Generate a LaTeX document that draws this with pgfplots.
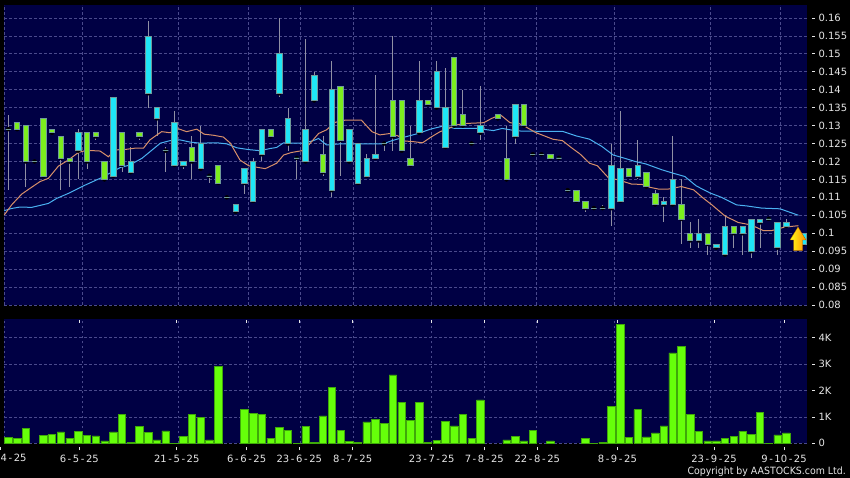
\documentclass[border=0pt]{standalone}
\usepackage{pgfplots}
\usepackage{pgfplotstable}
\usepackage{fontspec}
\setmainfont{DejaVu Sans}
\pgfplotsset{compat=1.18}

\definecolor{panel}{HTML}{000044}
\definecolor{gridc}{HTML}{4A4A8C}
\definecolor{upc}{HTML}{7CEE1E}
\definecolor{downc}{HTML}{1FE6F6}
\definecolor{edgec}{HTML}{6F9A9A}
\definecolor{wickc}{HTML}{9090A4}
\definecolor{volc}{HTML}{66FF0A}
\definecolor{voledge}{HTML}{3FA80A}
\definecolor{ma1}{HTML}{D8906A}
\definecolor{ma2}{HTML}{4AB0F0}
\definecolor{textc}{HTML}{E6E6E6}

% wider hyphen in the dates
\newcommand\hy{\kern1.6pt-\kern1.6pt}

% i, body low, body high, wick low, wick high
\pgfplotstableread{
i lo hi wl wh
1 .129 .131 .129 .131
2 .120 .130 .113 .130
4 .116 .132 .116 .132
5 .128 .129 .128 .129
6 .121 .127 .112 .127
7 .120 .121 .113 .121
9 .120 .128 .118 .128
10 .127 .128 .126 .128
11 .115 .120 .115 .120
13 .119 .128 .117 .128
15 .127 .128 .126 .128
21 .120 .124 .115 .127
24 .114 .119 .114 .119
30 .127 .129 .127 .129
36 .117 .122 .116 .127
38 .126 .141 .116 .141
44 .127 .137 .123 .155
45 .123 .137 .123 .137
46 .119 .121 .119 .130
48 .136 .137 .136 .137
51 .130 .149 .130 .149
52 .130 .133 .130 .140
56 .132 .133 .132 .133
57 .115 .121 .115 .130
59 .130 .136 .130 .136
62 .121 .122 .121 .122
65 .109 .112 .109 .112
66 .107 .109 .106 .109
71 .116 .118 .116 .118
73 .113 .117 .113 .117
74 .108 .111 .108 .112
77 .104 .108 .097 .115
78 .098 .100 .096 .103
80 .097 .100 .094 .100
83 .100 .102 .096 .102
}\upcandles

\pgfplotstableread{
i lo hi wl wh
0 .129 .129 .112 .133
3 .120 .120 .120 .120
8 .123 .128 .115 .129
12 .116 .138 .116 .138
14 .117 .120 .117 .124
16 .139 .155 .135 .159
17 .132 .135 .127 .135
18 .123 .123 .117 .124
19 .119 .131 .119 .134
20 .119 .120 .118 .120
22 .118 .125 .118 .130
23 .116 .116 .114 .116
25 .110 .110 .110 .110
26 .106 .108 .106 .108
27 .114 .118 .111 .118
28 .109 .120 .109 .121
29 .122 .129 .120 .129
31 .139 .150 .138 .160
32 .125 .132 .123 .135
33 .121 .121 .115 .121
34 .120 .129 .120 .154
35 .137 .144 .137 .145
37 .112 .140 .110 .148
39 .120 .129 .120 .129
40 .114 .125 .114 .125
41 .116 .121 .116 .122
42 .121 .122 .121 .144
43 .125 .125 .123 .125
47 .128 .137 .128 .148
49 .135 .145 .135 .148
50 .124 .135 .124 .146
53 .125 .125 .125 .125
54 .128 .130 .126 .141
58 .127 .136 .125 .136
60 .122 .122 .122 .122
61 .122 .122 .122 .122
63 .121 .121 .121 .121
64 .112 .112 .112 .112
67 .107 .107 .107 .107
68 .107 .107 .107 .108
69 .107 .119 .102 .125
70 .109 .118 .109 .134
72 .116 .119 .115 .126
75 .108 .109 .103 .110
76 .108 .115 .108 .127
79 .098 .100 .096 .104
81 .096 .097 .096 .097
82 .094 .102 .094 .105
84 .100 .102 .094 .102
85 .095 .104 .093 .104
86 .103 .104 .096 .104
87 .104 .104 .104 .104
88 .096 .103 .094 .103
89 .102 .103 .102 .104
91 .097 .100 .097 .100
}\downcandles

\pgfplotstableread{
i v
0 .22
1 .19
2 .56
4 .30
5 .34
6 .43
7 .20
8 .46
9 .29
10 .28
11 .09
12 .43
13 1.09
14 .04
15 .63
16 .42
17 .13
18 .47
19 .01
20 .25
21 1.10
22 .98
23 .13
24 2.90
27 1.27
28 1.14
29 1.08
30 .20
31 .60
32 .50
33 .01
34 .63
35 .03
36 1.04
37 2.11
38 .48
39 .06
40 .03
41 .81
42 .90
43 .76
44 2.59
45 1.55
46 .86
47 1.54
48 .03
49 .10
50 .83
51 .66
52 1.08
53 .19
54 1.64
57 .13
58 .27
59 .09
60 .50
62 .09
66 .19
67 .01
68 .04
69 1.41
70 4.50
71 .22
72 1.27
73 .24
74 .39
75 .66
76 3.42
77 3.67
78 1.08
79 .44
80 .09
81 .09
82 .20
83 .27
84 .46
85 .33
86 1.17
87 .01
88 .32
89 .39
}\volumes

\pgfdeclareplotmark{candle}{%
  \pgfpathrectangle{\pgfpoint{-2.7pt}{0pt}}{\pgfpoint{5.4pt}{\hpx pt}}%
  \pgfusepathqfillstroke}

\pgfplotsset{
  chart/.style={
    scale only axis, width=803pt,
    xmin=-0.495, xmax=91.38,
    axis background/.style={fill=panel},
    axis line style={draw=none},
    clip=true,
    grid=major,
    grid style={gridc, line width=.6pt, dash pattern=on 2.5pt off 2.5pt},
    xtick={-0.46,8.51,19.41,27.42,33.45,39.43,48.44,54.43,60.46,69.38,80.36,88.3},
    xticklabels={},
    xtick style={draw=none},
    ytick pos=right,
    tick align=outside,
    major tick length=3pt,
    ytick style={draw=textc, line width=.6pt, xshift=4.5pt},
    tick label style={textc, font=\fontsize{10}{12}\selectfont},
    yticklabel style={anchor=west, xshift=5pt},
  },
  candlebody/.style={
    scatter, only marks, mark=candle,
    scatter/use mapped color={draw=edgec, fill=#1},
    line width=.6pt,
    visualization depends on={3588.5*(\thisrow{hi}-\thisrow{lo}) \as \hpx},
  },
  wicks/.style={
    only marks, mark=none,
    error bars/.cd, y dir=both, y explicit, error mark=none,
    error bar style={wickc, line width=.8pt},
  },
}

\begin{document}
\begin{tikzpicture}[x=1pt,y=1pt]
\path[use as bounding box, fill=black] (0,0) rectangle (850,478);
\clip (0,0) rectangle (850,478);

\begin{axis}[chart, at={(4pt,173pt)}, anchor=south west, height=300pt,
  ymin=0.08, ymax=0.1636,
  ytick={0.08,0.085,0.09,0.095,0.1,0.105,0.11,0.115,0.12,0.125,0.13,0.135,0.14,0.145,0.15,0.155,0.16},
  yticklabels={0.08,0.085,0.09,0.095,0.1,0.105,0.11,0.115,0.12,0.125,0.13,0.135,0.14,0.145,0.15,0.155,0.16},
]
\addplot[wicks] table[x=i, y=lo, y error plus expr=\thisrow{wh}-\thisrow{lo}, y error minus expr=\thisrow{lo}-\thisrow{wl}] {\upcandles};
\addplot[wicks] table[x=i, y=lo, y error plus expr=\thisrow{wh}-\thisrow{lo}, y error minus expr=\thisrow{lo}-\thisrow{wl}] {\downcandles};
\addplot[candlebody=upc] table[x=i, y=lo] {\upcandles};
\addplot[candlebody=downc] table[x=i, y=lo] {\downcandles};

% 10 and 20 day averages
\addplot[ma2, line width=1pt] coordinates {
(-.46,.1063)(.38,.1069)(1.34,.1073)(2.67,.1072)(4.58,.1083)(5.53,.1097)(6.87,.1111)(8.6,.1132)
(10.5,.1153)(11.6,.1167)(12.8,.1183)(13.9,.1190)(15.3,.1209)(16.2,.1227)(17.4,.1251)(18.5,.1258)
(19.65,.1260)(20.8,.1254)(21.95,.1251)(23.85,.1252)(25,.1249)(26.15,.1238)(27.5,.1233)(28.8,.1230)
(29.94,.1236)(30.7,.1239)(31.5,.1252)(32.2,.1251)(33.8,.1251)(34.9,.1258)(35.5,.1264)(36.4,.1246)
(38,.1249)(42.9,.1249)(43.9,.1258)(45.2,.1267)(46.9,.1278)(48.3,.1290)(49.8,.1299)(51.1,.1292)
(53.6,.1292)(55.5,.1286)(56.5,.1292)(58.2,.1285)(60.8,.1284)(63.4,.1284)(65,.1271)(66.5,.1262)
(67.9,.1242)(69.2,.1218)(70.5,.1209)(71.7,.1200)(72.95,.1193)(74.75,.1177)(76.1,.1167)(77.4,.1158)
(78.7,.1132)(80.3,.1112)(81.6,.1100)(83.3,.1079)(84.5,.1076)(86.2,.1070)(88.3,.1068)(90.4,.1050)
};
\addplot[ma1, line width=1pt] coordinates {
(-.46,.1051)(.38,.1079)(1.53,.1109)(2.48,.1125)(3.63,.1144)(4.58,.1153)(5.73,.1187)(6.87,.1204)
(8.02,.1225)(8.78,.1230)(9.73,.1230)(10.5,.1229)(11.45,.1213)(12.2,.1232)(13.55,.1234)(14.5,.1237)
(15.46,.1237)(16.2,.1260)(17,.1274)(17.55,.1283)(18.5,.1280)(19.47,.1291)(20.4,.1283)(21.56,.1290)
(22.4,.1276)(23.47,.1273)(24.6,.1268)(25.4,.1251)(26.5,.1204)(27.5,.1188)(28.4,.1184)(29.4,.1180)
(30.7,.1195)(31.5,.1218)(32.4,.1225)(33.6,.1230)(34.3,.1244)(35.5,.1278)(36.4,.1288)(37.4,.1309)
(38.5,.1315)(40.4,.1315)(41.6,.1283)(42.5,.1274)(43.7,.1278)(44.6,.1271)(45.4,.1257)(46.4,.1255)
(47.4,.1252)(48.3,.1267)(49.4,.1283)(50.4,.1292)(51.3,.1302)(52.5,.1306)(54.4,.1308)(55.3,.1320)
(56.3,.1330)(57.4,.1308)(58.4,.1306)(59.3,.1295)(60.3,.1281)(62.3,.1262)(63.4,.1258)(64.5,.1237)
(65.4,.1221)(66.5,.1195)(67.4,.1188)(68.6,.1156)(70,.1147)(71.3,.1137)(72.5,.1136)(73.4,.1128)
(74.4,.1123)(75.5,.1123)(77,.1130)(78.4,.1121)(79.5,.1098)(80.5,.1079)(82,.1048)(83.5,.1030)
(85,.1023)(86.4,.1007)(87.3,.1007)(88.8,.1017)(90.4,.1021)
};
\end{axis}

\begin{axis}[chart, at={(4pt,34.7pt)}, anchor=south west, height=124.3pt,
  ymin=0, ymax=4.70,
  ytick={0,1,2,3,4},
  yticklabels={0,1K,2K,3K,4K},
  extra x ticks={8.12,19.27,27.27,33.29,39.4,48.44,54.46,60.52,69.68,80.74,88.75},
  extra x tick labels={6\hy5\hy25,21\hy5\hy25,6\hy6\hy25,23\hy6\hy25,8\hy7\hy25,23\hy7\hy25,7\hy8\hy25,22\hy8\hy25,8\hy9\hy25,23\hy9\hy25,9\hy10\hy25},
  extra x tick style={grid=none, xtick style={draw=textc, line width=.6pt, yshift=-4pt},
    xticklabel style={yshift=-5pt}},
]
\addplot[ybar, bar width=7.4pt, bar shift=0pt, fill=volc, draw=voledge, line width=.5pt]
  table[x=i, y=v] {\volumes};
\end{axis}

% first date label, shown cut in the source, and the signal arrow
\draw[textc, line width=.6pt] (.5,28) -- (.5,31);
\node[anchor=base west, textc, font=\fontsize{10}{12}\selectfont, inner sep=0pt] at (.5,16.5) {4\hy25};
\node[anchor=base east, textc, font=\fontsize{10}{12}\selectfont, inner sep=0pt] at (846,3) {\scalebox{.94}[1]{Copyright by AASTOCKS.com Ltd.}};
\shade[left color=yellow!90!white, right color=orange!90!yellow, draw=orange!70!black, line width=.3pt]
  (798,251) -- (790,238) -- (793.5,238) -- (793.5,227.3) -- (802.5,227.3) -- (802.5,238) -- (806,238) -- cycle;
\end{tikzpicture}
\end{document}
